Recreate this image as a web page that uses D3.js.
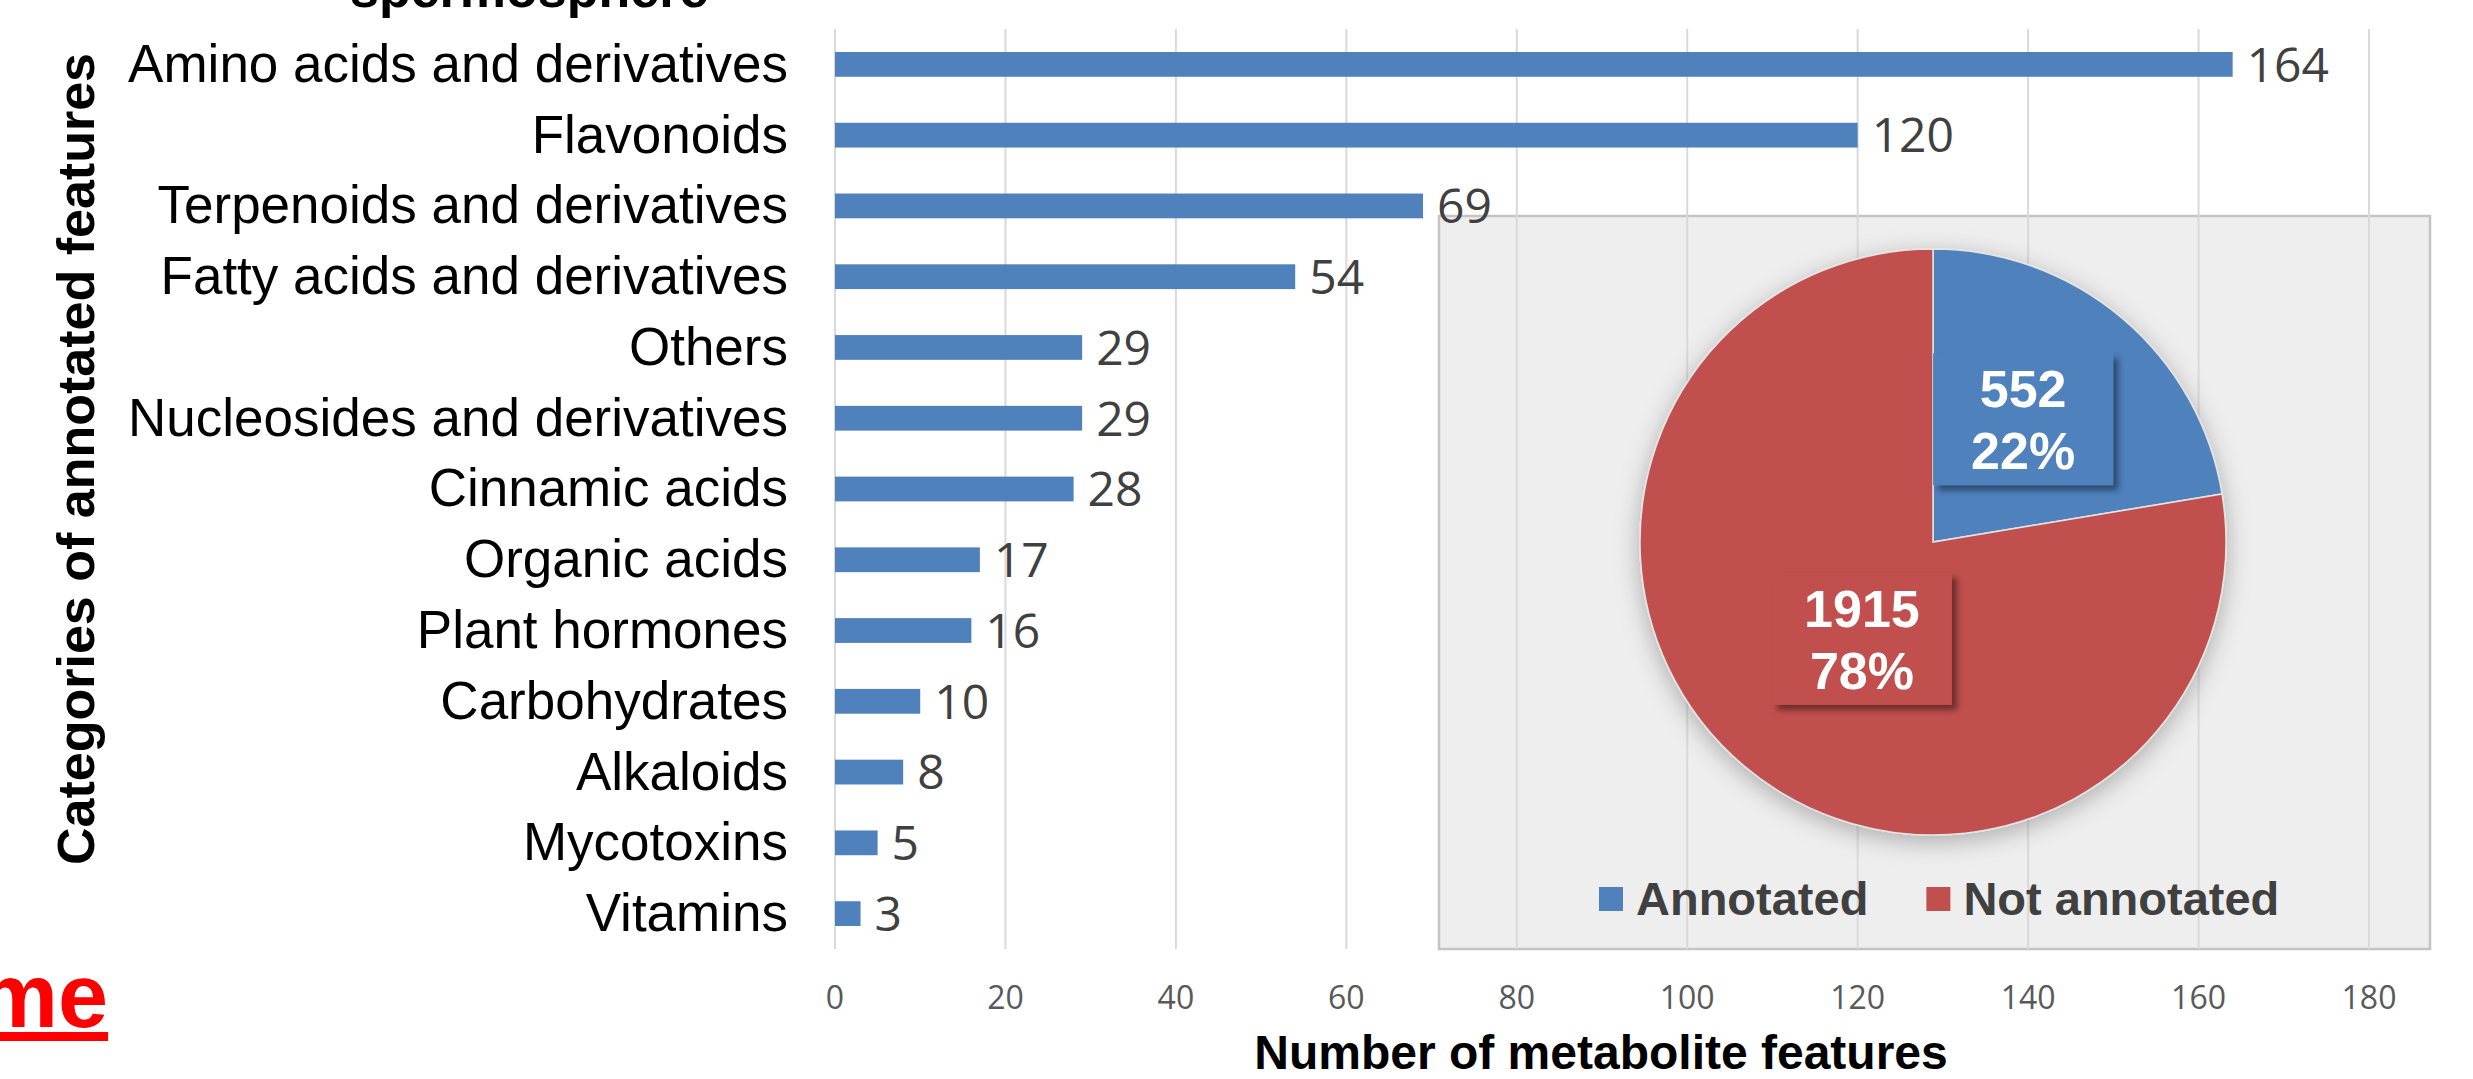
<!DOCTYPE html>
<html>
<head>
<meta charset="utf-8">
<script src="https://cdn.jsdelivr.net/npm/d3@7"></script>
<style>
body { margin: 0; background: #fff; }
text { font-family: 'Liberation Sans', Arial, sans-serif; }
.num { font-family: 'Open Sans', sans-serif; }
</style>
</head>
<body>
<svg width="2473" height="1079"></svg>
<script>
const categories = [
	'Amino acids and derivatives',
	'Flavonoids',
	'Terpenoids and derivatives',
	'Fatty acids and derivatives',
	'Others',
	'Nucleosides and derivatives',
	'Cinnamic acids',
	'Organic acids',
	'Plant hormones',
	'Carbohydrates',
	'Alkaloids',
	'Mycotoxins',
	'Vitamins',
];
const counts = [164, 120, 69, 54, 29, 29, 28, 17, 16, 10, 8, 5, 3];
const xTicks = [0, 20, 40, 60, 80, 100, 120, 140, 160, 180];

const pieNames = ['Annotated', 'Not annotated'];
const pieValues = [552, 1915];
const pieColors = ['#4F81BD', '#C0504D'];

const svg = d3.select('svg');
const defs = svg.append('defs');

// soft shadow round the pie
const pieShadow = defs.append('filter').attr('id', 'pieShadow')
	.attr('x', '-20%').attr('y', '-20%').attr('width', '140%').attr('height', '140%');
pieShadow.append('feDropShadow').attr('dx', 0).attr('dy', 6)
	.attr('stdDeviation', 12).attr('flood-color', '#000').attr('flood-opacity', 0.28);

// hard-ish shadow under the pie labels
const boxShadow = defs.append('filter').attr('id', 'boxShadow')
	.attr('x', '-20%').attr('y', '-20%').attr('width', '140%').attr('height', '140%');
boxShadow.append('feDropShadow').attr('dx', 5).attr('dy', 5)
	.attr('stdDeviation', 3).attr('flood-color', '#000').attr('flood-opacity', 0.45);

const plot = { top: 29, bottom: 949 };

const xScale = d3.scaleLinear().domain([0, 180]).range([835, 2369]);
const yScale = d3.scaleBand().domain(categories).range([plot.top, plot.bottom])
	.paddingInner(0.65).paddingOuter(0.325);

// grey inset panel behind the pie
svg.append('rect')
	.attr('x', 1439).attr('y', 216)
	.attr('width', 991).attr('height', 733)
	.attr('fill', '#EEEEEE')
	.attr('stroke', '#C4C4C4')
	.attr('stroke-width', 2.5);

// vertical gridlines
svg.append('g').selectAll('line')
	.data(xTicks)
	.enter().append('line')
	.attr('x1', d => xScale(d)).attr('x2', d => xScale(d))
	.attr('y1', plot.top).attr('y2', plot.bottom)
	.attr('stroke', '#D9D9D9')
	.attr('stroke-width', 2);

// tick labels
svg.append('g').selectAll('text')
	.data(xTicks)
	.enter().append('text')
	.attr('class', 'num')
	.attr('x', d => xScale(d))
	.attr('y', 998)
	.attr('dy', '0.35em')
	.attr('text-anchor', 'middle')
	.attr('font-size', 32)
	.attr('fill', '#595959')
	.text(d => d);

// bars
const rows = categories.map((c, i) => ({ name: c, value: counts[i] }));

svg.append('g').selectAll('rect')
	.data(rows)
	.enter().append('rect')
	.attr('x', xScale(0))
	.attr('y', d => yScale(d.name))
	.attr('width', d => xScale(d.value) - xScale(0))
	.attr('height', yScale.bandwidth())
	.attr('fill', '#4F81BD');

// category labels
svg.append('g').selectAll('text')
	.data(rows)
	.enter().append('text')
	.attr('x', 788)
	.attr('y', d => yScale(d.name) + yScale.bandwidth() / 2)
	.attr('dy', '0.33em')
	.attr('text-anchor', 'end')
	.attr('font-size', 53)
	.attr('fill', '#000')
	.text(d => d.name);

// axis titles and stray page text
svg.append('text')
	.attr('transform', 'translate(94,459) rotate(-90)')
	.attr('text-anchor', 'middle')
	.attr('font-size', 52)
	.attr('font-weight', 'bold')
	.text('Categories of annotated features');

svg.append('text')
	.attr('x', 1601).attr('y', 1069)
	.attr('text-anchor', 'middle')
	.attr('font-size', 48)
	.attr('font-weight', 'bold')
	.text('Number of metabolite features');

svg.append('text')
	.attr('x', 350).attr('y', 7)
	.attr('font-size', 52)
	.attr('font-weight', 'bold')
	.text('spermosphere');

svg.append('text')
	.attr('x', -22).attr('y', 1027)
	.attr('font-size', 90)
	.attr('font-weight', 'bold')
	.attr('fill', '#FF0000')
	.attr('text-decoration', 'underline')
	.text('me');

// pie
const cx = 1933, cy = 542, r = 293;
const total = d3.sum(pieValues);
const pctFormat = d3.format('.0%');
const pieData = d3.pie().sort(null).value(d => d.value)(
	pieNames.map((n, i) => ({ name: n, value: pieValues[i], color: pieColors[i] }))
);
const arc = d3.arc().innerRadius(0).outerRadius(r);

// best-fit style label spot: small slice pushed outwards, big slice pulled in
const labelPos = d => {
	const a = (d.startAngle + d.endAngle) / 2 - 0.07;
	const rr = d.data.value / total < 0.5 ? r * 0.52 : r * 0.41;
	return [Math.sin(a) * rr, -Math.cos(a) * rr];
};

const pieG = svg.append('g').attr('transform', `translate(${cx},${cy})`);

pieG.append('g').attr('filter', 'url(#pieShadow)')
	.selectAll('path')
	.data(pieData)
	.enter().append('path')
	.attr('d', arc)
	.attr('fill', d => d.data.color)
	.attr('stroke', '#E4E4E4')
	.attr('stroke-width', 1.5);

const labels = pieG.selectAll('.pie-label')
	.data(pieData)
	.enter().append('g')
	.attr('class', 'pie-label')
	.attr('transform', d => `translate(${labelPos(d)})`);

labels.append('rect')
	.attr('x', -90).attr('y', -66)
	.attr('width', 180).attr('height', 132)
	.attr('fill', d => d.data.color)
	.attr('filter', 'url(#boxShadow)');

labels.append('text')
	.attr('y', -12)
	.attr('text-anchor', 'middle')
	.attr('font-size', 52)
	.attr('font-weight', 'bold')
	.attr('fill', '#fff')
	.text(d => d.data.value);

labels.append('text')
	.attr('y', 50)
	.attr('text-anchor', 'middle')
	.attr('font-size', 52)
	.attr('font-weight', 'bold')
	.attr('fill', '#fff')
	.text(d => pctFormat(d.data.value / total));

// bar value labels (drawn last, they sit on the panel edge)
svg.append('g').selectAll('text')
	.data(rows)
	.enter().append('text')
	.attr('class', 'num')
	.attr('x', d => xScale(d.value) + 14)
	.attr('y', d => yScale(d.name) + yScale.bandwidth() / 2)
	.attr('dy', '0.36em')
	.attr('font-size', 48)
	.attr('fill', '#404040')
	.text(d => d.value);

// pie legend
const legend = svg.append('g').attr('transform', 'translate(1599,899)');
let lx = 0;
pieData.forEach(d => {
	const item = legend.append('g').attr('transform', `translate(${lx},0)`);
	item.append('rect')
		.attr('x', 0).attr('y', -12)
		.attr('width', 24).attr('height', 24)
		.attr('fill', d.data.color);
	const t = item.append('text')
		.attr('x', 37).attr('y', 16)
		.attr('font-size', 47)
		.attr('font-weight', 'bold')
		.attr('fill', '#404040')
		.text(d.data.name);
	lx += 37 + t.node().getComputedTextLength() + 58;
});
</script>
</body>
</html>
